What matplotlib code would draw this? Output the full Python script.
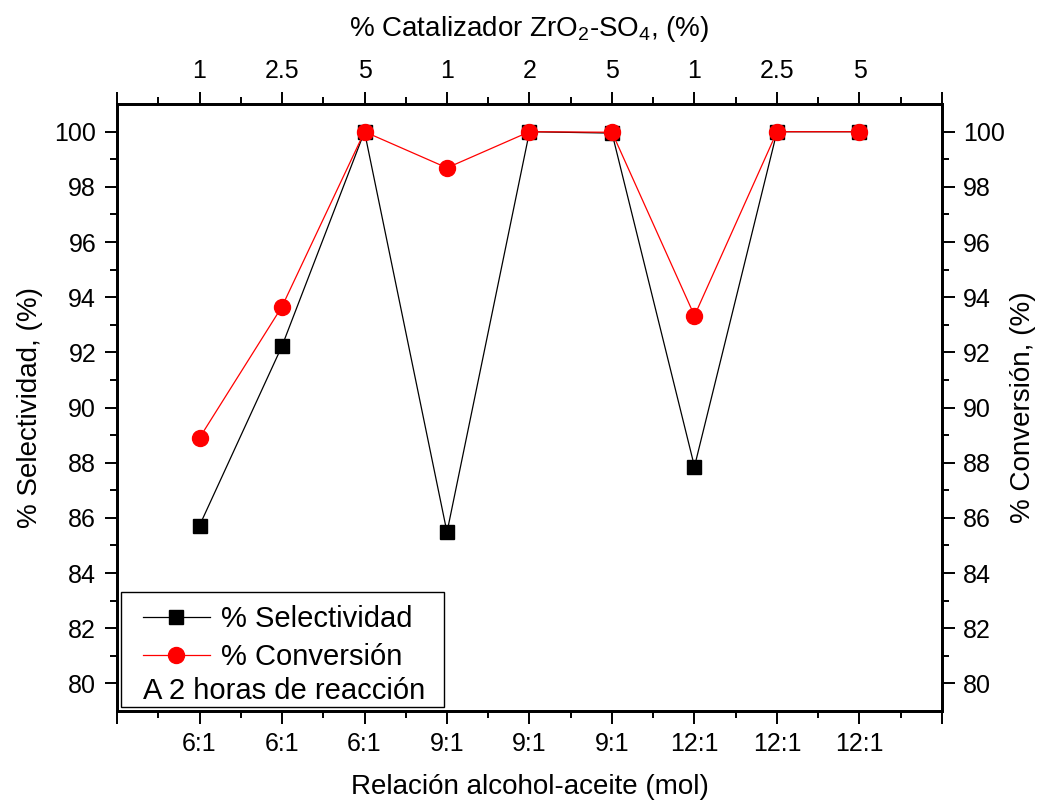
import numpy as np
import matplotlib.pyplot as plt
from matplotlib.patches import Rectangle

plt.rcParams['font.family'] = ['Liberation Sans', 'DejaVu Sans']
plt.rcParams['mathtext.fontset'] = 'custom'
plt.rcParams['mathtext.rm'] = 'Liberation Sans'
plt.rcParams['mathtext.it'] = 'Liberation Sans'
plt.rcParams['mathtext.default'] = 'regular'

relacion = ['6:1', '6:1', '6:1', '9:1', '9:1', '9:1', '12:1', '12:1', '12:1']
catalizador = ['1', '2.5', '5', '1', '2', '5', '1', '2.5', '5']
selectividad = [85.72, 92.23, 100.0, 85.48, 100.0, 99.95, 87.86, 100.0, 100.0]
conversion = [88.90, 93.66, 100.0, 98.69, 100.0, 99.98, 93.33, 100.0, 100.0]

x = np.arange(1, len(relacion) + 1)

fig = plt.figure(figsize=(10.42, 8.01), dpi=100)
ax = fig.add_axes([0.1123, 0.1124, 0.7917, 0.7576])

l1, = ax.plot(x, selectividad, color='black', lw=0.9, marker='s', ms=9.5,
              label='% Selectividad')
l2, = ax.plot(x, conversion, color='red', lw=0.9, marker='o', ms=11.5,
              label='% Conversión')

ax.set_xlim(0, 10)
ax.set_ylim(79, 101)
ax.set_xticks(np.arange(0, 11))
ax.set_xticklabels([''] + relacion + [''])
ax.set_xticks(np.arange(0.5, 10, 1), minor=True)
ax.set_yticks(np.arange(80, 101, 2))
ax.set_yticks(np.arange(81, 101, 2), minor=True)

for s in ax.spines.values():
    s.set_linewidth(1.8)

tick_kw = dict(direction='out', width=1.4, labelsize=18)
ax.tick_params(which='major', length=9, pad=6, **tick_kw)
ax.tick_params(which='minor', length=5, width=1.4, direction='out')

ax.set_xlabel('Relación alcohol-aceite (mol)', fontsize=20, labelpad=13)
ax.set_ylabel('% Selectividad, (%)', fontsize=20, labelpad=8)

axt = ax.twiny()
axt.set_xlim(ax.get_xlim())
axt.set_xticks(np.arange(0, 11))
axt.set_xticklabels([''] + catalizador + [''])
axt.set_xticks(np.arange(0.5, 10, 1), minor=True)
axt.tick_params(which='major', length=9, pad=6, **tick_kw)
axt.tick_params(which='minor', length=5, width=1.4, direction='out')
axt.set_xlabel('% Catalizador ZrO$_2$-SO$_4$, (%)', fontsize=20, labelpad=17)

axr = ax.twinx()
axr.set_ylim(ax.get_ylim())
axr.set_yticks(np.arange(80, 101, 2))
axr.set_yticks(np.arange(81, 101, 2), minor=True)
axr.tick_params(which='major', length=9, pad=6, **tick_kw)
axr.tick_params(which='minor', length=5, width=1.4, direction='out')
axr.set_ylabel('% Conversión, (%)', fontsize=20, labelpad=4)

for a in (axt, axr):
    for s in a.spines.values():
        s.set_linewidth(1.8)

# legend box with extra note
ax.add_patch(Rectangle((0.005, 0.0066), 0.391, 0.19, transform=ax.transAxes,
                       facecolor='white', edgecolor='black', lw=1.0, zorder=5))
leg = ax.legend(handles=[l1, l2], loc='upper left',
                bbox_to_anchor=(0.024, 0.184), frameon=False, fontsize=21,
                handlelength=2.3, handletextpad=0.4, labelspacing=0.34,
                borderaxespad=0.0, borderpad=0.2)
leg.set_zorder(6)
ax.text(0.031, 0.01, 'A 2 horas de reacción', transform=ax.transAxes,
        fontsize=21, zorder=7, va='bottom', ha='left')

fig.savefig('out.png', dpi=100)
